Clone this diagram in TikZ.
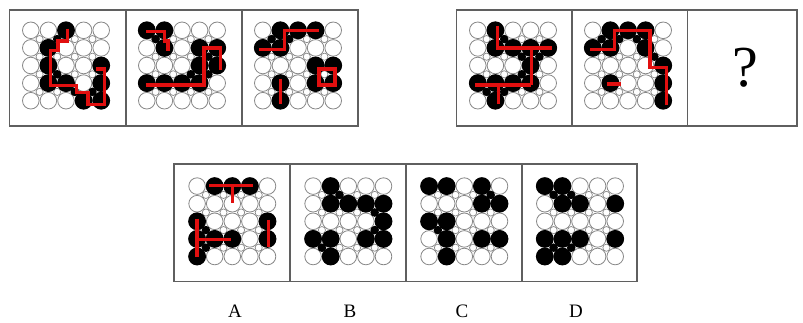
\documentclass[tikz,border=0pt]{standalone}
\usepackage{fontspec}
\setmainfont{Liberation Serif}
\definecolor{pzred}{RGB}{225,15,15}
\definecolor{pzgray}{RGB}{135,135,135}
\definecolor{pzframe}{RGB}{95,95,95}
\tikzset{
 bigc/.style={draw=pzgray,line width=0.8pt,fill=white},
 smallc/.style={draw=pzgray,line width=0.7pt,fill=white},
 redl/.style={draw=pzred,line width=3.3pt,line cap=butt,line join=miter},
 panelbox/.style={draw=pzframe,line width=1.6pt,inner sep=0pt,fill=white},
 lbl/.style={font=\fontsize{19}{19}\selectfont,inner sep=0pt},
}
\newcommand\dotpanel[5]{%
 \begin{scope}[shift={(#1-35.2,#2-35.2)},x=17.6pt,y=-17.6pt]
   \foreach \c in {0,...,4}{\foreach \r in {0,...,4}{\path[bigc] (\c,\r) circle (8.3pt);}}
   \foreach \c in {0,...,3}{\foreach \r in {0,...,3}{\path[smallc] (\c+0.5,\r+0.5) circle (3.6pt);}}
   \foreach \a/\b in {#3}{\fill[black] (\a,\b) circle (8.9pt);}
   \foreach \a/\b in {#4}{\fill[black] (\a,\b) circle (4.3pt);}
   #5
 \end{scope}}
\begin{document}
\begin{tikzpicture}[x=1pt,y=-1pt]
\useasboundingbox (0,0) rectangle (803,322);
\fill[white] (0,0) rectangle (803,322);
% panel frames
\node[panelbox,minimum width=116.2pt,minimum height=116.3pt] (p1) at (67.6,67.85) {};
\node[panelbox,minimum width=116.2pt,minimum height=116.3pt] (p2) at (183.8,67.85) {};
\node[panelbox,minimum width=116.2pt,minimum height=116.3pt] (p3) at (299.9,67.85) {};
\node[panelbox,minimum width=115.2pt,minimum height=116.3pt] (p4) at (514.1,67.85) {};
\node[panelbox,minimum width=115.8pt,minimum height=116.3pt] (p5) at (629.6,67.85) {};
\node[panelbox,minimum width=109.5pt,minimum height=116.3pt] (p6) at (742.25,67.85) {};
\node[panelbox,minimum width=116.3pt,minimum height=117.5pt] (pa) at (231.85,222.75) {};
\node[panelbox,minimum width=116pt,minimum height=117.5pt] (pb) at (348,222.75) {};
\node[panelbox,minimum width=116pt,minimum height=117.5pt] (pc) at (464,222.75) {};
\node[panelbox,minimum width=115pt,minimum height=117.5pt] (pd) at (579.5,222.75) {};
% panel 1
\dotpanel{66}{65.5}{2/0,1/1,1/2,1/3,2/3,3/4,4/4,4/3,4/2}{1.5/0.5,2.5/3.5,3.5/3.5,1.5/2.5}{%
 \draw[redl] (2.1,-0.1)--(2.1,0.6)--(1.55,0.6)--(1.55,1.15)--(1.1,1.15)--(1.1,3.15)--(2.6,3.15)--(2.6,3.55)--(3.25,3.55)--(3.25,4.2)--(4.2,4.2)--(4.2,2.2)--(3.7,2.2);}
% panel 2
\dotpanel{182}{65.5}{0/0,1/0,1/1,0/3,1/3,2/3,3/3,3/2,3/1,4/1,4/2}{0.5/0.5,3.5/1.5,2.5/2.5,3.5/2.5}{%
 \draw[redl] (-0.05,0.05)--(1,0.05)--(1,0.6)--(1.2,0.6)--(1.2,1.2);
 \draw[redl] (-0.05,3.1)--(3.25,3.1)--(3.25,1)--(4.2,1)--(4.2,2.25);}
% panel 3
\dotpanel{298}{65.5}{0/1,1/1,1/0,2/0,3/0,1/3,1/4,3/2,4/2,4/3,3/3}{0.5/0.5,1.5/0.5}{%
 \draw[redl] (-0.2,1.1)--(1.25,1.1)--(1.25,0)--(3.2,0);
 \draw[redl] (1,2.75)--(1,4.2);
 \draw[redl] (3.2,2.2)--(4.1,2.2)--(4.1,3.1)--(3.2,3.1)--cycle;}
% panel 4
\dotpanel{513}{65.5}{1/0,1/1,2/1,3/1,4/1,3/2,3/3,0/3,1/3,2/3,1/4}{1.5/0.5,2.5/1.5,3.5/1.5,2.5/2.5,0.5/3.5,1.5/3.5}{%
 \draw[redl] (1.1,-0.25)--(1.1,1)--(4.2,1);
 \draw[redl] (3.05,1)--(3.05,3.1);
 \draw[redl] (-0.15,3.1)--(3.05,3.1);
 \draw[redl] (1.17,3.1)--(1.17,4.2);}
% panel 5
\dotpanel{628}{65.5}{0/1,1/1,1/0,2/0,3/0,3/1,4/2,4/3,4/4,1/3}{0.5/0.5,1.5/0.5,2.5/0.5,3.5/1.5}{%
 \draw[redl] (-0.15,1.1)--(1.25,1.1)--(1.25,0)--(3.25,0)--(3.25,2.1)--(4.2,2.1)--(4.2,4.25);
 \draw[redl] (0.8,3.05)--(1.6,3.05);}
% question mark
\node[inner sep=0pt] (q) at (745,68) {\fontsize{58}{58}\selectfont ?};
% option A
\dotpanel{232.3}{221.3}{1/0,2/0,3/0,0/2,0/3,0/4,1/3,2/3,4/2,4/3}{0.5/3.5,0.5/2.5}{%
 \draw[redl] (0.7,-0.05)--(3.2,-0.05);
 \draw[redl] (2,-0.05)--(2,0.95);
 \draw[redl] (0,1.85)--(0,4);
 \draw[redl] (0,3.05)--(1.9,3.05);
 \draw[redl] (4.05,1.9)--(4.05,3.45);}
% option B
\dotpanel{348.3}{221.3}{1/0,1/1,2/1,3/1,4/1,4/2,0/3,1/3,3/3,4/3,1/4}{1.5/0.5,0.5/3.5,3.5/2.5,3.5/1.5}{}
% option C
\dotpanel{464.3}{221.3}{0/0,1/0,3/0,3/1,4/1,0/2,1/2,1/3,3/3,4/3,1/4}{3.5/0.5,0.5/2.5}{}
% option D
\dotpanel{580}{221.3}{0/0,1/0,1/1,2/1,4/1,0/3,1/3,2/3,4/3,0/4,1/4}{0.5/0.5,1.5/0.5,0.5/3.5,1.5/3.5}{}
% labels
\node[lbl] (la) at (235,311.5) {A};
\node[lbl] (lb) at (350,311.5) {B};
\node[lbl] (lc) at (462,311.5) {C};
\node[lbl] (ld) at (576,311.5) {D};
\end{tikzpicture}
\end{document}
